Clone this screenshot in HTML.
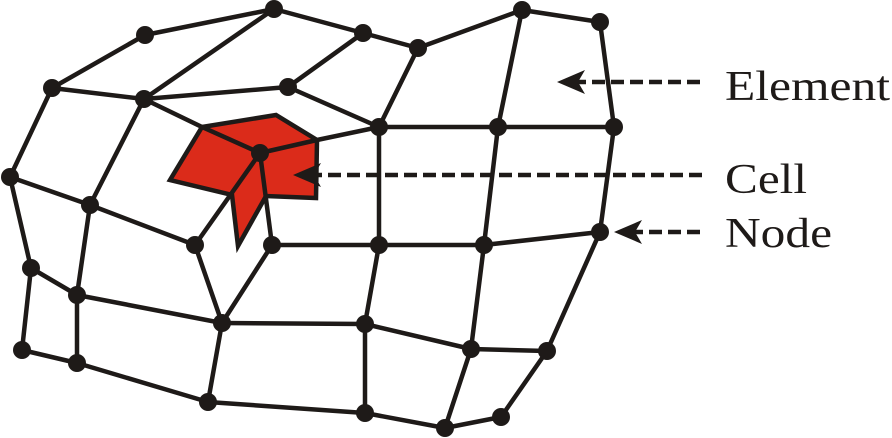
<!DOCTYPE html>
<html><head><meta charset="utf-8"><style>
html,body{margin:0;padding:0;background:#fff;width:892px;height:438px;overflow:hidden}
svg{display:block}
text{font-family:"Liberation Serif",serif;fill:#1e1a18}
</style></head><body>
<svg id="chart" width="892" height="438" viewBox="0 0 892 438">
<polygon points="202,127 276,115 317,140 316,198 266,196 238,246 232,195 170,180" fill="#db2b1a" stroke="#1e1a18" stroke-width="4.5" stroke-linejoin="miter"/>
<g id="edges" stroke="#1e1a18" stroke-width="4.5" stroke-linecap="round"></g>
<g id="nodes" fill="#1e1a18"></g>
<g id="arrows"></g>
<text x="725" y="100" font-size="42" textLength="165" lengthAdjust="spacingAndGlyphs">Element</text>
<text x="725" y="193" font-size="42" textLength="82" lengthAdjust="spacingAndGlyphs">Cell</text>
<text x="725" y="247" font-size="42" textLength="107" lengthAdjust="spacingAndGlyphs">Node</text>
</svg>
<script>
const nodeIds=["A","B","C","D","E","F","G","H","I","J","K","L","M","N","O","P","Q","R","S","T","U","V","W","X","Y","Z","AA","AB","AC","AD","AE","AG","C1","C2"];
const nodeX=[274,145,52,144,10,90,363,418,288,379,260,195,272,379,31,77,222,365,22,77,208,365,445,522,600,498,614,484,600,471,547,501,202,317];
const nodeY=[9,35,88,99,177,205,33,48,87,127,153,245,245,245,268,295,323,324,350,363,402,413,428,10,22,127,127,245,232,349,351,417,127,140];
const hidden=["C1","C2"];
const edgeList=["C-B","B-A","A-G","G-H","H-X","X-Y","Y-AA","AA-AC","AC-AE","AE-AG","AG-W","W-V","V-U","U-T","T-S","S-O","O-E","E-C",
"C-D","D-I","I-J","A-D","H-J","D-C1","C1-K","K-C2","C2-J","D-F","F-E","F-L","F-P","L-K","K-M","L-Q","M-Q","Q-P","P-O","P-T","Q-U","Q-R","R-V",
"M-N","N-AB","AB-AC","J-N","J-Z","Z-AA","X-Z","Z-AB","N-R","AB-AD","R-AD","AD-AE","AD-W","I-G"];
const NS="http://www.w3.org/2000/svg";
const pos={};nodeIds.forEach((id,i)=>pos[id]=[nodeX[i],nodeY[i]]);
const eg=document.getElementById('edges');
edgeList.forEach(e=>{const [a,b]=e.split('-');const l=document.createElementNS(NS,'line');
l.setAttribute('x1',pos[a][0]);l.setAttribute('y1',pos[a][1]);l.setAttribute('x2',pos[b][0]);l.setAttribute('y2',pos[b][1]);


eg.appendChild(l);});
const ng=document.getElementById('nodes');
nodeIds.forEach(id=>{if(hidden.includes(id))return;const c=document.createElementNS(NS,'circle');
c.setAttribute('cx',pos[id][0]);c.setAttribute('cy',pos[id][1]);c.setAttribute('r',9);


ng.appendChild(c);});
const arrowTipX=[557,293,614];
const arrowY=[82,175,232];
const arrowNames=["element-arrow","cell-arrow","node-arrow"];
const ag=document.getElementById('arrows');
arrowTipX.forEach((tx,i)=>{const y=arrowY[i];const g=document.createElementNS(NS,'g');


const l=document.createElementNS(NS,'line');l.setAttribute('x1',tx+16);l.setAttribute('y1',y);l.setAttribute('x2',706);l.setAttribute('y2',y);
l.setAttribute('stroke','#1e1a18');l.setAttribute('stroke-width','4.5');l.setAttribute('stroke-dasharray','13 6');
const p=document.createElementNS(NS,'polygon');
p.setAttribute('points',`${tx},${y} ${tx+28},${y-12} ${tx+21},${y} ${tx+28},${y+12}`);p.setAttribute('fill','#1e1a18');
g.appendChild(l);g.appendChild(p);ag.appendChild(g);});
</script>
</body></html>
